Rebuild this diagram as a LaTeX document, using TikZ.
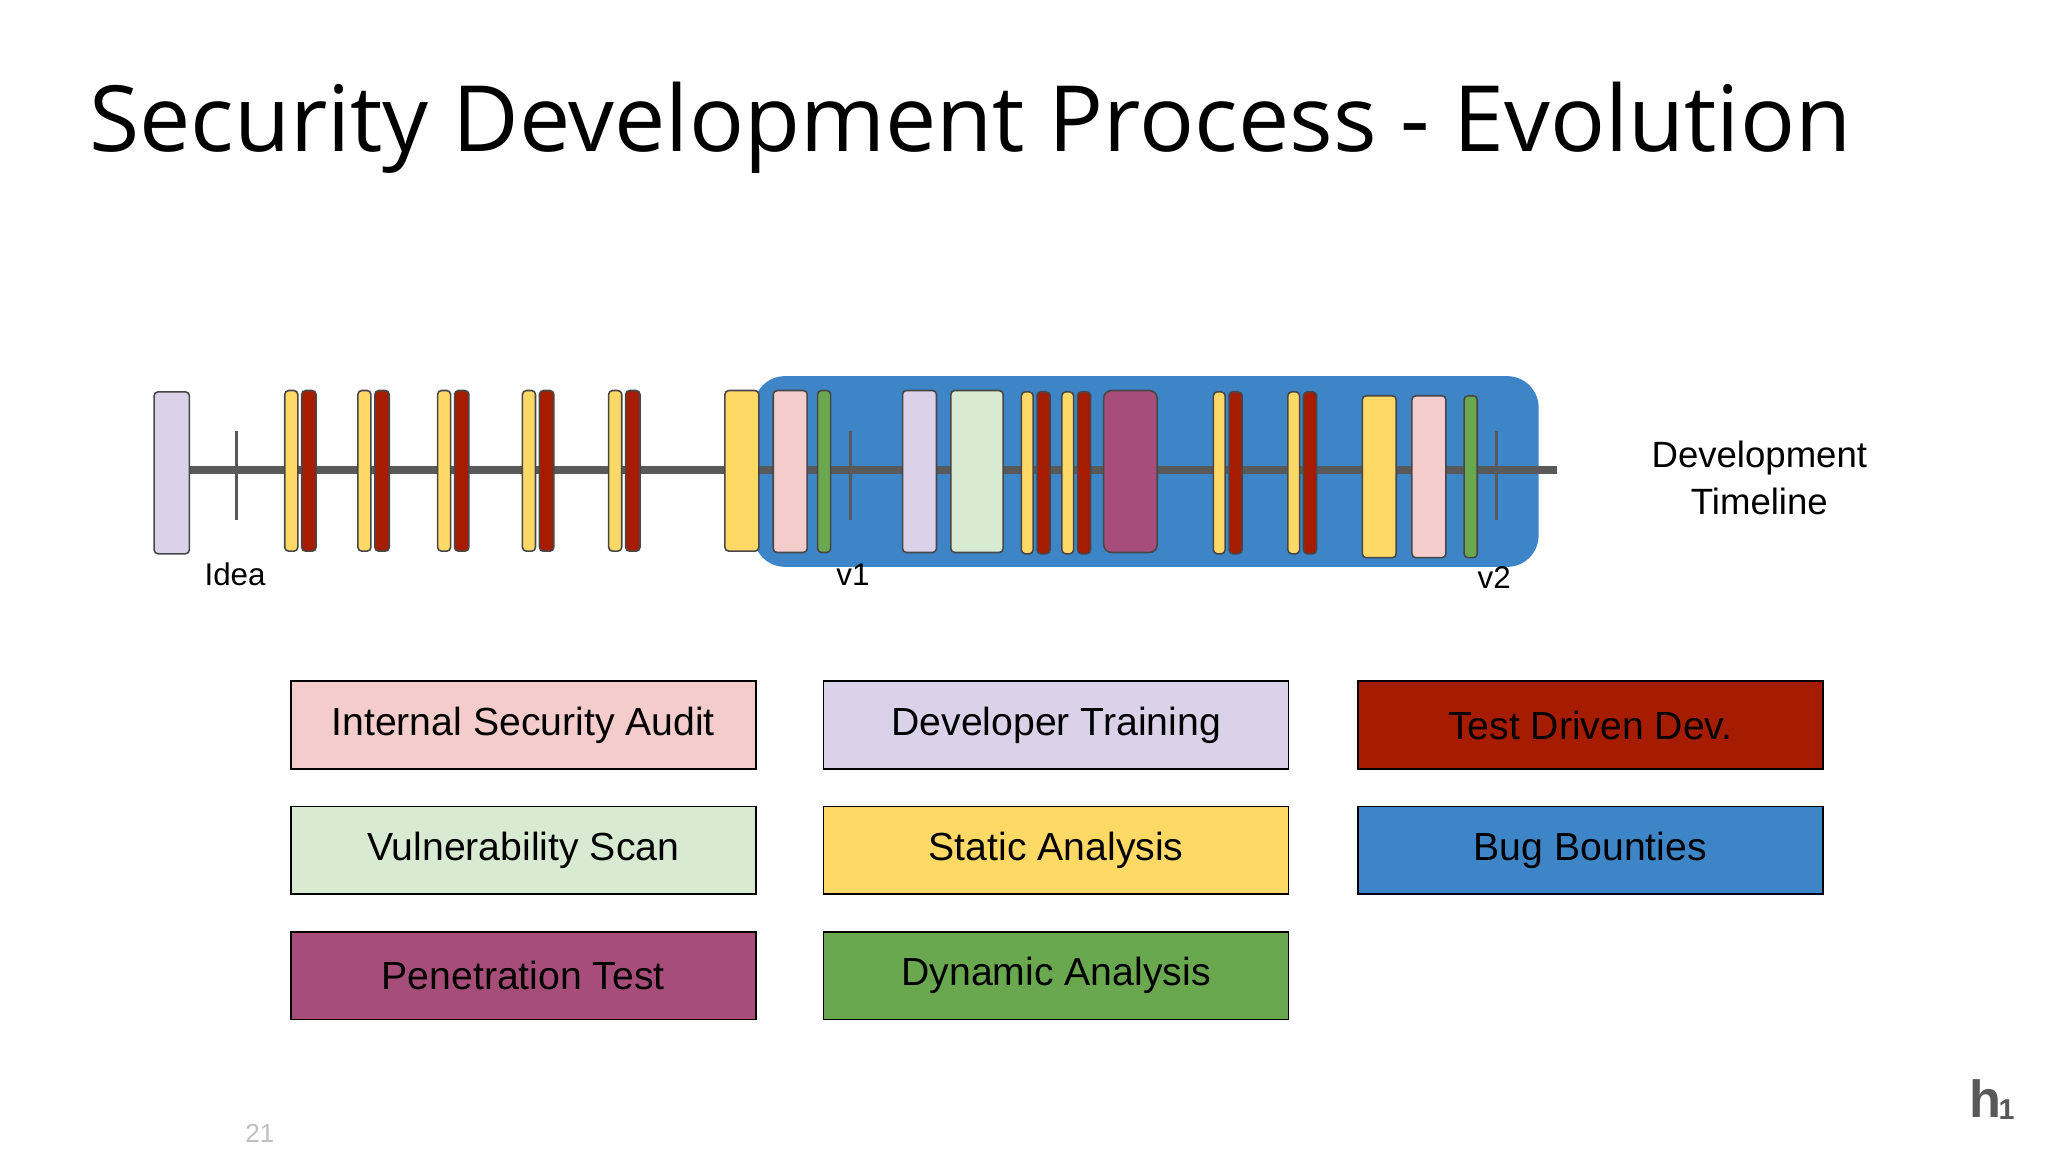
\documentclass[tikz,border=0pt]{standalone}
\usepackage{fontspec}
\setmainfont{Liberation Sans}
\newfontfamily\titlefont{Open Sans}
\definecolor{cpink}{HTML}{F4CCCC}
\definecolor{clav}{HTML}{D9D2E9}
\definecolor{cred}{HTML}{A61C00}
\definecolor{cyel}{HTML}{FFD966}
\definecolor{cgrn}{HTML}{6AA84F}
\definecolor{clgrn}{HTML}{D9EAD3}
\definecolor{cpur}{HTML}{A64D79}
\definecolor{cblue}{HTML}{3D85C6}
\definecolor{cline}{HTML}{595959}
\tikzset{
 bar/.style={draw=cline!80!black, line width=1.2pt, rounded corners=3pt},
 legend/.style={draw=black, line width=1.2pt, minimum width=356pt, minimum height=67pt, font=\fontsize{30}{34}\selectfont, anchor=north west, inner sep=0pt},
 lbl/.style={font=\fontsize{24}{28}\selectfont},
}
\begin{document}
\begin{tikzpicture}[x=1pt,y=-1pt]
\useasboundingbox (0,0) rectangle (1568,882);
\fill[white] (0,0) rectangle (1568,882);
\node[anchor=base west, inner sep=0pt, font=\titlefont\fontsize{70}{80}\selectfont] (title) at (68,116) {Security Development Process - Evolution};
% blue region
\fill[cblue, rounded corners=24pt] (577,288) rectangle (1178,434);
% timeline
\coordinate (ts) at (145,360); \coordinate (te) at (1192,360);
\draw[cline, line width=6pt] (ts) -- (te);
\foreach \x in {181,651,1146} \draw[cline, line width=2.5pt] (\x,330) -- (\x,398);
% bars
\newcommand{\mybar}[5]{\filldraw[bar, fill=#1] (#2,#4) rectangle (#3,#5);}
\mybar{clav}{118}{145}{300}{424}
\foreach \a in {218,274,335,400,466}{
 \mybar{cyel}{\a}{\a+10}{299}{422}
 \mybar{cred}{\a+13}{\a+24}{299}{422}
}
\mybar{cyel}{555}{581}{299}{422}
\mybar{cpink}{592}{618}{299}{423}
\mybar{cgrn}{626}{636}{299}{423}
\mybar{clav}{691}{717}{299}{423}
\mybar{clgrn}{728}{768}{299}{423}
\foreach \a in {782,813,929,986}{
 \mybar{cyel}{\a}{\a+9}{300}{424}
 \mybar{cred}{\a+12}{\a+22}{300}{424}
}
\filldraw[bar, fill=cpur, rounded corners=6pt] (845,299) rectangle (886,423);
\mybar{cyel}{1043}{1069}{303}{427}
\mybar{cpink}{1081}{1107}{303}{427}
\mybar{cgrn}{1121}{1131}{303}{427}
\draw[cline, line width=2.5pt] (651,330) -- (651,398);
\draw[cline, line width=2.5pt] (1146,330) -- (1146,398);
% labels
\node[lbl] (idea) at (180,440) {Idea};
\node[lbl] (v1) at (653,440) {v1};
\node[lbl] (v2) at (1144,442) {v2};
\node[align=center, font=\fontsize{28}{36}\selectfont] (dt) at (1347,366) {Development\\Timeline};
% legend
\node[legend, fill=cpink] (l1) at (222,521) {Internal Security Audit};
\node[legend, fill=clav] (l2) at (630,521) {Developer Training};
\node[legend, fill=cred] (l3) at (1039,521) {Test Driven Dev.};
\node[legend, fill=clgrn] (l4) at (222,617) {Vulnerability Scan};
\node[legend, fill=cyel] (l5) at (630,617) {Static Analysis};
\node[legend, fill=cblue] (l6) at (1039,617) {Bug Bounties};
\node[legend, fill=cpur] (l7) at (222,713) {Penetration Test};
\node[legend, fill=cgrn] (l8) at (630,713) {Dynamic Analysis};
% page number
\node[text=black!25, font=\fontsize{20}{24}\selectfont] (pg) at (199,868) {21};
% logo
\node[text=black!65, font=\bfseries\fontsize{40}{40}\selectfont, inner sep=0pt] (logo) at (1525,842) {h\kern-2pt\raisebox{-2pt}{\fontsize{22}{22}\selectfont 1}};
\end{tikzpicture}
\end{document}
